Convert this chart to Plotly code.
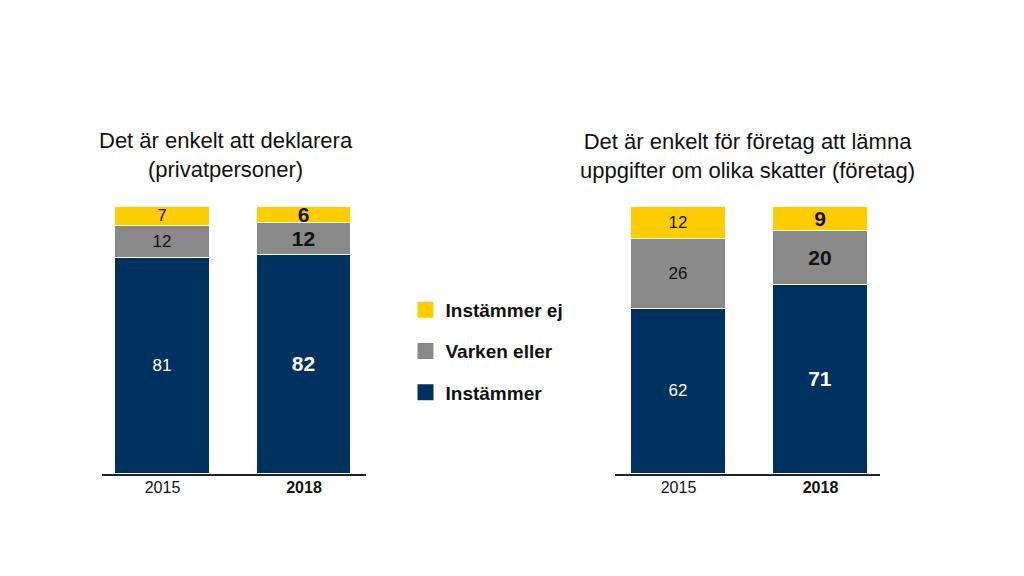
import plotly.graph_objects as go

years = ["2015", "2018"]
tick_labels = ["2015", "<b>2018</b>"]
series_names = ["Instämmer", "Varken eller", "Instämmer ej"]
colors = ["#00325F", "#898989", "#FFCC00"]

priv_instammer = [81, 82]
priv_varken = [12, 12]
priv_ej = [7, 6]

fore_instammer = [62, 71]
fore_varken = [26, 20]
fore_ej = [12, 9]

title_left = "Det är enkelt att deklarera<br>(privatpersoner)"
title_right = "Det är enkelt för företag att lämna<br>uppgifter om olika skatter (företag)"

FONT = "Liberation Sans, Arial, sans-serif"
xpos = [0, 1]

# page body has an 8px margin; figure is sized to fill the remaining window
W, H, OFF = 1016, 568, 8
def px(x):
    return (x - OFF) / W
def py(y):
    return 1 - (y - OFF) / H

fig = go.Figure()

def add_stack(values_list, xa, ya):
    for name, vals, col in zip(series_names, values_list, colors):
        txtcol = "white" if name == "Instämmer" else "#111111"
        texts = [str(vals[0]), "<b>%d</b>" % vals[1]]
        fig.add_trace(go.Bar(
            x=xpos, y=vals, name=name, marker=dict(color=col, line=dict(color="white", width=1)),
            width=0.665, text=texts, textposition="inside", insidetextanchor="middle",
            constraintext="none", textangle=0,
            textfont=dict(family=FONT, size=[17, 21], color=txtcol),
            xaxis=xa, yaxis=ya, showlegend=False, hoverinfo="skip",
        ))

add_stack([priv_instammer, priv_varken, priv_ej], "x", "y")
add_stack([fore_instammer, fore_varken, fore_ej], "x2", "y2")

# legend entries (top to bottom)
for i, (name, col) in enumerate(reversed(list(zip(series_names, colors)))):
    fig.add_trace(go.Scatter(
        x=[None], y=[None], mode="markers", name=name,
        marker=dict(symbol="square", size=18, color=col),
        legendgroup="g%d" % i, showlegend=True, xaxis="x", yaxis="y",
    ))

ydom = [py(474), py(206.7)]
axis_common = dict(showline=True, linecolor="#222222", linewidth=1.5, showgrid=False, zeroline=False,
                   tickmode="array", tickvals=xpos, ticktext=tick_labels, ticks="",
                   ticklabelstandoff=-2,
                   tickfont=dict(family=FONT, size=16, color="#111111"), fixedrange=True)
fig.update_layout(
    width=W, height=H,
    margin=dict(l=0, r=0, t=0, b=0),
    paper_bgcolor="white", plot_bgcolor="white",
    barmode="stack", bargap=0,
    font=dict(family=FONT, color="#111111"),
    xaxis=dict(domain=[px(102), px(366)], range=[-0.4276, 1.438], anchor="y", **axis_common),
    xaxis2=dict(domain=[px(615), px(880)], range=[-0.447, 1.419], anchor="y2", **axis_common),
    yaxis=dict(domain=ydom, range=[0, 100], visible=False, fixedrange=True),
    yaxis2=dict(domain=ydom, range=[0, 100], visible=False, fixedrange=True, anchor="x2"),
    showlegend=True,
    legend=dict(x=px(405.5), y=py(291), xanchor="left", yanchor="top",
                font=dict(family=FONT, size=19, color="#111111", weight="bold"),
                traceorder="grouped", tracegroupgap=13.5, itemsizing="trace",
                bgcolor="rgba(0,0,0,0)"),
    annotations=[
        dict(text=title_left, x=px(226), y=py(155), xref="paper", yref="paper",
             xanchor="center", yanchor="middle", showarrow=False,
             font=dict(family=FONT, size=22, color="#111111")),
        dict(text=title_right, x=px(747), y=py(156), xref="paper", yref="paper",
             xanchor="center", yanchor="middle", showarrow=False,
             font=dict(family=FONT, size=22, color="#111111")),
    ],
)

fig.write_html("out.html")
